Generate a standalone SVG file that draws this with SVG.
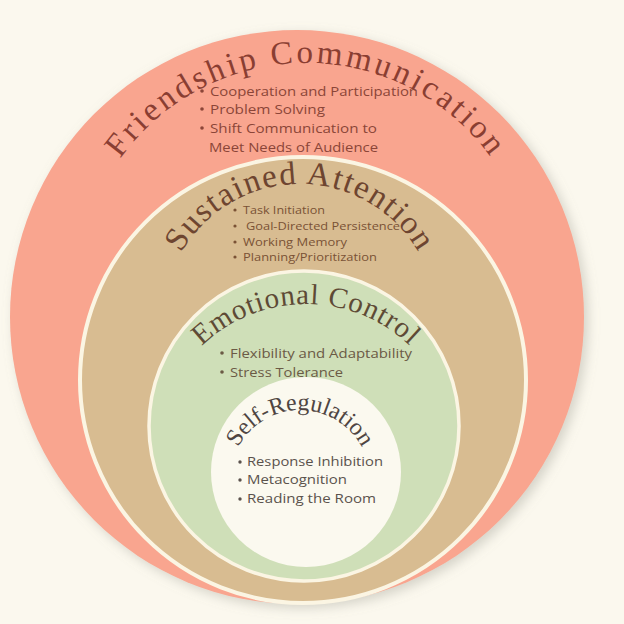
<svg xmlns="http://www.w3.org/2000/svg" width="624" height="624" viewBox="0 0 624 624">
  <defs>
    <filter id="shadow" x="-10%" y="-10%" width="120%" height="120%">
      <feDropShadow dx="4" dy="4" stdDeviation="6" flood-color="#8a8a80" flood-opacity="0.35"/>
    </filter>
    <path id="arcFriend" d="M 78 291 A 228 228 0 0 1 534 291"/>
    <path id="arcSustain" d="M 163 321 A 137 137 0 0 1 437 321"/>
    <path id="arcEmotion" d="M 156 454 A 150 150 0 0 1 456 454"/>
    <path id="arcSelf" d="M 230 480 A 70 70 0 0 1 370 480"/>
  </defs>
  <style>
    .title { font-family: "Liberation Serif", "DejaVu Serif", serif; }
    .list { font-family: "Open Sans", "Noto Sans", "Liberation Sans", sans-serif; }
    .ring { stroke: #FBF5E3; }
  </style>
  <rect x="0" y="0" width="624" height="624" fill="#FBF8EE"/>

  <g id="friendship-communication">
    <circle cx="297" cy="317" r="287" fill="#F9A58F" filter="url(#shadow)"/>
    <text class="title" font-size="33" fill="#8A3E32" letter-spacing="3"><textPath href="#arcFriend" startOffset="50%" text-anchor="middle">Friendship Communication</textPath></text>
    <g class="list" font-size="13.5" fill="#8B4538">
      <circle cx="202" cy="91" r="1.8"/>
      <circle cx="202" cy="109" r="1.8"/>
      <circle cx="202" cy="128" r="1.8"/>
      <text x="210" y="96" textLength="208" lengthAdjust="spacingAndGlyphs">Cooperation and Participation</text>
      <text x="210" y="114" textLength="115" lengthAdjust="spacingAndGlyphs">Problem Solving</text>
      <text x="210" y="133" textLength="167" lengthAdjust="spacingAndGlyphs">Shift Communication to</text>
      <text x="209" y="152" textLength="169" lengthAdjust="spacingAndGlyphs">Meet Needs of Audience</text>
    </g>
  </g>

  <g id="sustained-attention">
    <circle class="ring" cx="303" cy="380" r="223" fill="#D8BC91" stroke-width="4"/>
    <text class="title" font-size="33" fill="#6E4530" letter-spacing="1.5"><textPath href="#arcSustain" startOffset="50%" text-anchor="middle">Sustained Attention</textPath></text>
    <g class="list" font-size="11.5" fill="#7A5235">
      <circle cx="235" cy="210" r="1.6"/>
      <circle cx="235" cy="226" r="1.6"/>
      <circle cx="235" cy="242" r="1.6"/>
      <circle cx="235" cy="257" r="1.6"/>
      <text x="243" y="214" textLength="82" lengthAdjust="spacingAndGlyphs">Task Initiation</text>
      <text x="246" y="230" textLength="154" lengthAdjust="spacingAndGlyphs">Goal-Directed Persistence</text>
      <text x="243" y="246" textLength="104" lengthAdjust="spacingAndGlyphs">Working Memory</text>
      <text x="243" y="261" textLength="134" lengthAdjust="spacingAndGlyphs">Planning/Prioritization</text>
    </g>
  </g>

  <g id="emotional-control">
    <circle class="ring" cx="304" cy="426" r="155" fill="#CFDFB8" stroke-width="3.5"/>
    <text class="title" font-size="29" fill="#5E4A35" letter-spacing="0.8"><textPath href="#arcEmotion" startOffset="50%" text-anchor="middle">Emotional Control</textPath></text>
    <g class="list" font-size="13.5" fill="#6B5A45">
      <circle cx="222" cy="353" r="1.8"/>
      <circle cx="222" cy="372" r="1.8"/>
      <text x="230" y="358" textLength="182" lengthAdjust="spacingAndGlyphs">Flexibility and Adaptability</text>
      <text x="230" y="377" textLength="113" lengthAdjust="spacingAndGlyphs">Stress Tolerance</text>
    </g>
  </g>

  <g id="self-regulation">
    <circle cx="306" cy="472" r="95" fill="#FBF9EF"/>
    <text class="title" font-size="24" fill="#4F4542"><textPath href="#arcSelf" startOffset="50%" text-anchor="middle">Self-Regulation</textPath></text>
    <g class="list" font-size="12.5" fill="#5A524C">
      <circle cx="240" cy="462" r="1.7"/>
      <circle cx="240" cy="480" r="1.7"/>
      <circle cx="240" cy="499" r="1.7"/>
      <text x="247" y="466" textLength="136" lengthAdjust="spacingAndGlyphs">Response Inhibition</text>
      <text x="247" y="484" textLength="100" lengthAdjust="spacingAndGlyphs">Metacognition</text>
      <text x="247" y="503" textLength="129" lengthAdjust="spacingAndGlyphs">Reading the Room</text>
    </g>
  </g>

  <g id="connectors"/>
</svg>
